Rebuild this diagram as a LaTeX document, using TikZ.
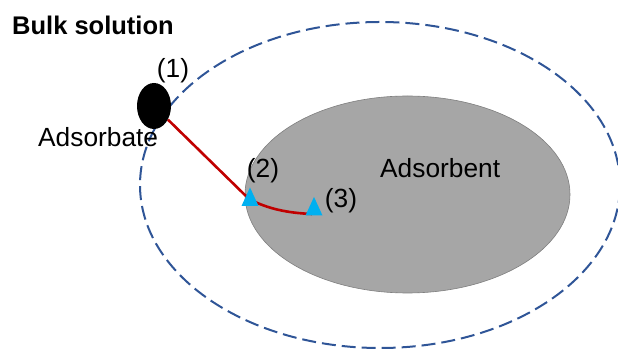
\documentclass[tikz,border=0pt]{standalone}
\usepackage{fontspec}
\setmainfont{Liberation Sans}
\usetikzlibrary{shapes.geometric}
\definecolor{dashblue}{HTML}{2F5597}
\definecolor{pathred}{HTML}{C00000}
\definecolor{markcyan}{HTML}{00B0F0}
\definecolor{sorbgray}{HTML}{A6A6A6}
\definecolor{sorbline}{HTML}{7F7F7F}
\tikzset{
  x=1pt, y=1pt,
  lbl/.style={inner sep=0pt, font=\fontsize{26.3}{30}\selectfont},
  boundary/.style={draw=dashblue, line width=2pt, dash pattern=on 14pt off 6pt, ellipse, inner sep=0pt},
  sorbent/.style={ellipse, fill=sorbgray, draw=sorbline, line width=0.6pt, inner sep=0pt},
  molecule/.style={ellipse, fill=black, inner sep=0pt},
  route/.style={draw=pathred, line width=2.6pt},
  site/.style={isosceles triangle, isosceles triangle stretches, shape border rotate=90,
    fill=markcyan, inner sep=0pt, minimum width=17pt, minimum height=18.5pt}
}
\begin{document}
\begin{tikzpicture}
\useasboundingbox (0,0) rectangle (618,350);
\clip (0,0) rectangle (618,350);
\node[boundary, minimum width=480pt, minimum height=326pt] (bulk) at (380,165) {};
\node[sorbent, minimum width=325pt, minimum height=197pt] (sorb) at (407.5,155.5) {};
\node[molecule, minimum width=34pt, minimum height=46pt] (ads) at (154,244) {};
\coordinate (p2) at (249,151);
\coordinate (p3) at (312,136);
\draw[route] (ads) -- (p2) .. controls (268,141) and (288,137) .. (p3);
\node[site] (t2) at (250,149.5) {};
\node[site] (t3) at (314,140) {};
\node[lbl, anchor=base west, font=\fontsize{25.5}{30}\selectfont\bfseries] (bulklbl) at (12,315) {Bulk solution};
\node[lbl, anchor=base west] (adslbl) at (38,203) {Adsorbate};
\node[lbl, anchor=base west] (sorblbl) at (380,172) {Adsorbent};
\node[lbl] (n1) at (173,279) {(1)};
\node[lbl] (n2) at (263,179) {(2)};
\node[lbl] (n3) at (341,149) {(3)};
\end{tikzpicture}
\end{document}
